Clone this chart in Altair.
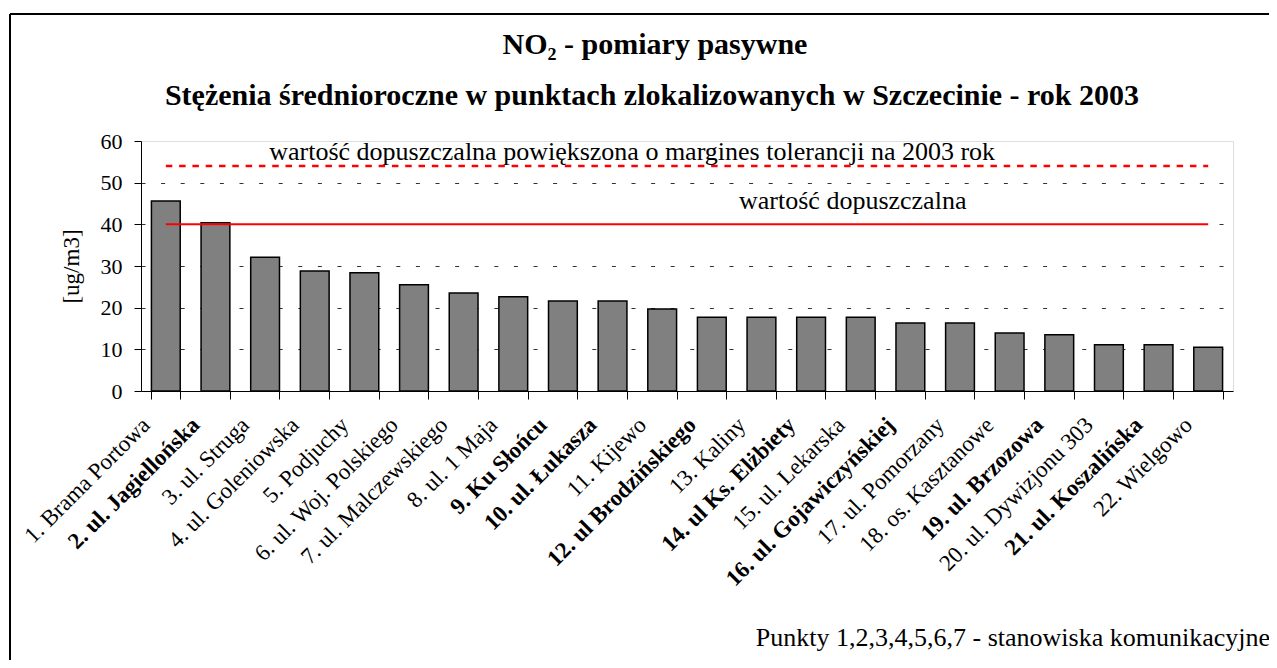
import altair as alt
import pandas as pd

# ---- data ----
categories = [
    "1. Brama Portowa", "2. ul. Jagiellońska", "3. ul. Struga", "4. ul. Goleniowska",
    "5. Podjuchy", "6. ul. Woj. Polskiego", "7. ul. Malczewskiego", "8. ul. 1 Maja",
    "9. Ku Słońcu", "10. ul. Łukasza", "11. Kijewo", "12. ul Brodzińskiego",
    "13. Kaliny", "14. ul Ks. Elżbiety", "15. ul. Lekarska", "16. ul. Gojawiczyńskiej",
    "17. ul. Pomorzany", "18. os. Kasztanowe", "19. ul. Brzozowa", "20. ul. Dywizjonu 303",
    "21. ul. Koszalińska", "22. Wielgowo",
]
values = [45.6, 40.4, 32.1, 28.8, 28.4, 25.5, 23.5, 22.6, 21.6, 21.6, 19.7,
          17.7, 17.7, 17.7, 17.7, 16.3, 16.3, 13.9, 13.5, 11.1, 11.1, 10.5]
bold_labels = [categories[i] for i in (1, 8, 9, 11, 13, 15, 18, 20)]
limit_value = 40
limit_margin_value = 54
y_ticks = [0, 10, 20, 30, 40, 50, 60]

title_text = "NO₂ - pomiary pasywne"
subtitle_text = "Stężenia średnioroczne w punktach zlokalizowanych w Szczecinie - rok 2003"
label_margin = "wartość dopuszczalna  powiększona o margines tolerancji na 2003 rok"
label_limit = "wartość dopuszczalna"
footnote = "Punkty 1,2,3,4,5,6,7 - stanowiska komunikacyjne"
y_title = "[ug/m3]"

FONT = "Liberation Serif"

df = pd.DataFrame({
    "punkt": categories,
    "stezenie": values,
    "dop": [limit_value] * len(categories),
    "dop_m": [limit_margin_value] * len(categories),
})

bold_test = "indexof(" + str(bold_labels).replace("'", '"') + ", datum.value) >= 0"

x_scale = alt.Scale(domain=categories, paddingInner=0.42, paddingOuter=0.21)
x_enc = alt.X(
    "punkt:N", scale=x_scale,
    axis=alt.Axis(
        title=None, labelAngle=-45, labelAlign="right", labelBaseline="middle",
        labelFont=FONT, labelFontSize=23, labelColor="black",
        labelPadding=22, labelOffset=-20, labelLimit=400,
        labelFontWeight=alt.condition(bold_test, alt.value("bold"), alt.value("normal")),
        domainColor="black", tickColor="black", tickSize=8, tickBand="extent",
        grid=False, labelOverlap=False,
    ),
)
y_scale = alt.Scale(domain=[0, 60], nice=False)
y_enc = alt.Y(
    "stezenie:Q", scale=y_scale, title=y_title,
    axis=alt.Axis(
        values=y_ticks, labelFont=FONT, labelFontSize=22, labelColor="black",
        labelPadding=12, tickSize=7, tickColor="black", domainColor="black",
        titleFont=FONT, titleFontSize=23, titleFontWeight="normal", titleColor="black",
        titlePadding=17,
        grid=True, gridColor="#333", gridDash=[4, 15.6], gridWidth=1,
        gridOpacity=alt.condition("datum.value == 0 || datum.value == 60",
                                  alt.value(0), alt.value(1)),
    ),
)

base = alt.Chart(df)
bars = base.mark_bar(fill="#808080", stroke="black", strokeWidth=1.5).encode(x=x_enc, y=y_enc)
line40 = base.mark_line(color="red", strokeWidth=2).encode(x="punkt:N", y="dop:Q")
line54 = base.mark_line(color="red", strokeWidth=2.5, strokeDash=[6.5, 6.8]).encode(
    x="punkt:N", y="dop_m:Q")

one = pd.DataFrame({"a": [0]})
txt_margin = alt.Chart(one).mark_text(
    text=label_margin, font=FONT, fontSize=26, align="center", baseline="alphabetic",
    dx=-30, dy=-6, color="black",
).encode(x=alt.datum(categories[10]), y=alt.datum(limit_margin_value))
txt_limit = alt.Chart(one).mark_text(
    text=label_limit, font=FONT, fontSize=26, align="center", baseline="alphabetic",
    dx=-8, dy=-15, color="black",
).encode(x=alt.datum(categories[14]), y=alt.datum(limit_value))

title1 = alt.Chart(one).mark_text(
    text=title_text, font=FONT, fontSize=30, fontWeight="bold", align="center",
    baseline="middle", color="black",
).encode(x=alt.value(514), y=alt.value(-96))
title2 = alt.Chart(one).mark_text(
    text=subtitle_text, font=FONT, fontSize=30, fontWeight="bold", align="center",
    baseline="middle", color="black",
).encode(x=alt.value(511), y=alt.value(-45))

note = alt.Chart(one).mark_text(
    text=footnote, font=FONT, fontSize=26, align="right", baseline="middle", color="black",
).encode(x=alt.value(1129), y=alt.value(497))

frame_top = alt.Chart(one).mark_rule(color="black", strokeWidth=2).encode(
    x=alt.value(-131), x2=alt.value(1300), y=alt.value(-127))
frame_left = alt.Chart(one).mark_rule(color="black", strokeWidth=2).encode(
    x=alt.value(-131), y=alt.value(-127), y2=alt.value(700))

chart = alt.layer(
    frame_top, frame_left, bars, line54, line40, txt_margin, txt_limit,
    title1, title2, note
).properties(
    width=1092, height=250,
    autosize=alt.AutoSizeParams(type="none"),
    padding={"left": 133, "top": 133, "right": 36, "bottom": 269},
).configure_view(stroke="#999", strokeWidth=1.5).configure(background="white")

chart.save("out.html", embed_options={"renderer": "svg", "actions": False})
